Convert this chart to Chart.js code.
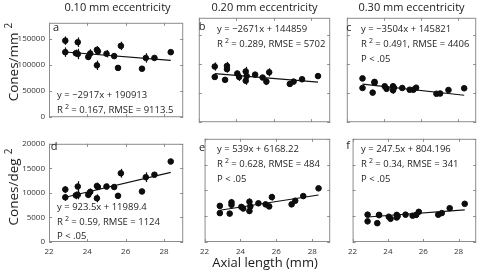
<!DOCTYPE html>
<html>
<head>
<meta charset="utf-8">
<script src="https://cdn.jsdelivr.net/npm/chart.js@4.4.0/dist/chart.umd.min.js"></script>
<style>
    body {
        margin: 0;
        width: 480px;
        height: 270px;
        overflow: hidden;
        position: relative;
        background: #fff;
        font-family: "Open Sans", sans-serif;
        color: #1a1a1a;
    }

    canvas,
    .t {
        position: absolute;
    }

    .t {
        white-space: nowrap;
        line-height: 1;
    }

    .c {
        transform: translate(-50%, -50%);
    }

    .l {
        transform: translateY(-50%);
    }

    .note {
        font-size: 9.5px;
        color: #1f1f1f;
    }

    .sup {
        position: relative;
        top: -4px;
        font-size: 7px;
        margin-left: 2px;
    }

    .ytitle {
        font-size: 13.5px;
        transform: translate(-50%, -50%) rotate(-90deg);
    }

    .ytitle .sup {
        font-size: 10px;
        top: -6px;
        margin-left: 4px;
    }
</style>
</head>
<body>
<script>
// axial length (mm) of each eye, shared by all six panels
const axialLength = [22.85, 22.85, 23.4, 23.5, 23.5, 24.05, 24.15, 24.5, 24.5, 24.55, 25.0, 25.4, 25.6, 25.75, 26.85, 27.05, 27.5, 28.35];

// cones/mm^2
const mm010 = [146000, 124000, 122000, 143000, 120500, 115000, 121500, 128500, 99000, 125500, 121000, 116500, 94000, 136000, 92500, 113000, 113000, 124000];
const mm010Err = [8000, 9000, 7000, 9000, 10000, 6000, 8000, 7000, 9000, 7000, 7000, 5000, 5000, 8000, 4000, 9000, 4000, 4000];
const mm020 = [96000, 78000, 73000, 97000, 91500, 84000, 78000, 87500, 71500, 79500, 82000, 77000, 70000, 86000, 66000, 70000, 74000, 79500];
const mm020Err = [7000, 5000, 4000, 7000, 6000, 5000, 7000, 8000, 7000, 6000, 4000, 4000, 6000, 7000, 4000, 4000, 3000, 4000];
const mm030 = [75500, 59000, 51000, 69500, 68000, 62000, 57500, 62000, 55000, 59500, 59000, 56000, 56000, 59500, 49000, 49500, 55500, 58500];
const mm030Err = [3000, 3000, 3000, 3500, 3000, 3500, 4000, 4500, 6000, 3500, 3000, 3000, 3000, 3500, 3000, 3000, 3000, 3000];

// cones/deg^2
const deg010 = [10700, 9100, 9500, 11300, 9600, 9600, 10200, 11400, 8900, 11200, 11300, 11200, 9400, 14000, 10300, 13200, 13700, 16400];
const deg010Err = [700, 700, 800, 1100, 900, 600, 700, 700, 800, 600, 600, 500, 600, 900, 500, 1000, 500, 400];
const deg020 = [7000, 5600, 5500, 7700, 7200, 6800, 6500, 7800, 6000, 6900, 7500, 7300, 6900, 8700, 7300, 8000, 8900, 10400];
const deg020Err = [400, 400, 400, 550, 500, 400, 500, 650, 550, 500, 400, 400, 400, 650, 400, 400, 400, 500];
const deg030 = [5300, 4000, 3650, 5250, 5200, 4900, 4500, 5250, 4750, 5000, 5300, 5100, 5250, 5850, 5300, 5600, 6550, 7400];
const deg030Err = [300, 300, 300, 400, 300, 300, 400, 400, 450, 400, 300, 300, 300, 400, 300, 300, 300, 400];

// regression lines, ends
const fitX = [22.85, 28.35];
const fitMm010 = [124300, 108200];
const fitMm020 = [83800, 69100];
const fitMm030 = [65800, 46500];
const fitDeg010 = [9110, 14190];
const fitDeg020 = [6150, 9110];
const fitDeg030 = [4850, 6210];

const xTicks = [22, 24, 26, 28];
const mmTicks = [0, 50000, 100000, 150000];
const degTicks = [0, 5000, 10000, 15000, 20000];

const colTitles = ["0.10 mm eccentricity", "0.20 mm eccentricity", "0.30 mm eccentricity"];

const panels = [
    { tag: "a", col: 0, row: 0, values: mm010, errors: mm010Err, fit: fitMm010,
      notes: ["y = −2917x + 190913", ["0.167, RMSE = 9113.5"]] },
    { tag: "b", col: 1, row: 0, values: mm020, errors: mm020Err, fit: fitMm020,
      notes: ["y = −2671x + 144859", ["0.289, RMSE = 5702"]] },
    { tag: "c", col: 2, row: 0, values: mm030, errors: mm030Err, fit: fitMm030,
      notes: ["y = −3504x + 145821", ["0.491, RMSE = 4406"], "P &lt; .05"] },
    { tag: "d", col: 0, row: 1, values: deg010, errors: deg010Err, fit: fitDeg010,
      notes: ["y = 923.5x + 11989.4", ["0.59, RMSE = 1124"], "P &lt; .05"] },
    { tag: "e", col: 1, row: 1, values: deg020, errors: deg020Err, fit: fitDeg020,
      notes: ["y = 539x + 6168.22", ["0.628, RMSE = 484"], "P &lt; .05"] },
    { tag: "f", col: 2, row: 1, values: deg030, errors: deg030Err, fit: fitDeg030,
      notes: ["y = 247.5x + 804.196", ["0.34, RMSE = 341"], "P &lt; .05"] },
];

// layout (pixels)
const cols = [{ l: 49, r: 186 }, { l: 196, r: 333 }, { l: 344, r: 479 }];
const rows = [{ t: 15, b: 125 }, { t: 136, b: 242 }];
const yAxisW = 49;
const xAxisH = 18;
const tagPos = [[56, 26], [202, 25], [349, 26], [54, 145], [202, 146], [348, 144]];
const notePos = [
    [57, [95, 109.5]],
    [217, [28.5, 43.5]],
    [361, [28.5, 43.5, 58.5]],
    [57, [207, 221.5, 236]],
    [217, [149, 164, 178.5]],
    [361, [149, 164, 178.5]],
];

function addText(html, x, y, cls) {
    const d = document.createElement("div");
    d.className = "t " + cls;
    d.innerHTML = html;
    d.style.left = x + "px";
    d.style.top = y + "px";
    document.body.appendChild(d);
    return d;
}

// box with inward tick marks, plus error bars
const boxPlugin = {
    id: "box",
    beforeDatasetsDraw(chart, args, opts) {
        const { ctx, scales } = chart;
        const meta = chart.getDatasetMeta(0);
        ctx.save();
        ctx.strokeStyle = "#111";
        ctx.lineWidth = 1.2;
        meta.data.forEach((pt, i) => {
            const v = opts.values[i];
            const e = opts.errors[i];
            const x = Math.round(pt.x) + 0.5;
            ctx.beginPath();
            ctx.moveTo(x, scales.y.getPixelForValue(v - e));
            ctx.lineTo(x, scales.y.getPixelForValue(v + e));
            ctx.stroke();
        });
        ctx.restore();
    },
    afterDraw(chart, args, opts) {
        const { ctx, chartArea: a, scales } = chart;
        ctx.save();
        ctx.strokeStyle = "#8c8c8c";
        ctx.lineWidth = 1;
        ctx.strokeRect(a.left + 0.5, a.top + 0.5, a.right - a.left - 1, a.bottom - a.top - 1);
        ctx.beginPath();
        xTicks.forEach((t) => {
            const x = Math.round(scales.x.getPixelForValue(t)) + 0.5;
            ctx.moveTo(x, a.bottom);
            ctx.lineTo(x, a.bottom - 3);
            ctx.moveTo(x, a.top);
            ctx.lineTo(x, a.top + 3);
        });
        opts.yTicks.forEach((t) => {
            const y = Math.round(scales.y.getPixelForValue(t)) + 0.5;
            ctx.moveTo(a.left, y);
            ctx.lineTo(a.left + 3, y);
            ctx.moveTo(a.right, y);
            ctx.lineTo(a.right - 3, y);
        });
        ctx.stroke();
        ctx.restore();
    },
};

function makePanel(p, idx) {
    const col = cols[p.col];
    const row = rows[p.row];
    const left = p.col === 0 ? yAxisW : 0;
    const bottom = p.row === 1 ? xAxisH : 0;
    const x0 = col.l - left - 1;
    const y0 = row.t - 1;
    const w = col.r - x0 + 1;
    const h = row.b - y0 + bottom + 1;

    const canvas = document.createElement("canvas");
    canvas.width = w;
    canvas.height = h;
    canvas.style.left = x0 + "px";
    canvas.style.top = y0 + "px";
    canvas.style.width = w + "px";
    canvas.style.height = h + "px";
    document.body.appendChild(canvas);

    const yTicks = p.row === 0 ? mmTicks : degTicks;

    new Chart(canvas, {
        type: "scatter",
        data: {
            datasets: [
                {
                    data: axialLength.map((x, i) => ({ x: x, y: p.values[i] })),
                    backgroundColor: "#0d0d0d",
                    borderColor: "#0d0d0d",
                    pointRadius: 2.8,
                    pointHoverRadius: 2.8,
                },
                {
                    type: "line",
                    data: fitX.map((x, i) => ({ x: x, y: p.fit[i] })),
                    borderColor: "#111",
                    borderWidth: 1.2,
                    pointRadius: 0,
                    fill: false,
                },
            ],
        },
        options: {
            responsive: false,
            animation: false,
            events: [],
            layout: { padding: { left: 1, top: 1, right: 1, bottom: 1 } },
            plugins: {
                legend: { display: false },
                tooltip: { enabled: false },
                box: { values: p.values, errors: p.errors, yTicks: yTicks },
            },
            scales: {
                x: {
                    type: "linear",
                    min: 22,
                    max: 29,
                    grid: { display: false, drawTicks: false },
                    border: { display: false },
                    ticks: {
                        display: p.row === 1,
                        padding: 5,
                        color: "#333",
                        font: { family: "Open Sans", size: 8 },
                    },
                    afterBuildTicks: (s) => { s.ticks = xTicks.map((v) => ({ value: v })); },
                    afterFit: (s) => { s.height = bottom; },
                },
                y: {
                    type: "linear",
                    min: 0,
                    max: p.row === 0 ? 180000 : 20000,
                    grid: { display: false, drawTicks: false },
                    border: { display: false },
                    ticks: {
                        display: p.col === 0,
                        padding: 4,
                        color: "#333",
                        font: { family: "Open Sans", size: 8 },
                        callback: (v) => String(v),
                    },
                    afterBuildTicks: (s) => { s.ticks = yTicks.map((v) => ({ value: v })); },
                    afterFit: (s) => { s.width = left; },
                },
            },
        },
        plugins: [boxPlugin],
    });

    addText(p.tag, tagPos[idx][0], tagPos[idx][1], "c note").style.fontSize = "11px";
    const [nx, ny] = notePos[idx];
    p.notes.forEach((n, k) => {
        const html = Array.isArray(n) ? 'R<span class="sup">2</span> = ' + n[0] : n;
        addText(html, nx, ny[k], "l note");
    });
}

panels.forEach(makePanel);

colTitles.forEach((t, i) => {
    addText(t, (cols[i].l + cols[i].r) / 2, 6, "c").style.fontSize = "11px";
});
addText('Cones/mm<span class="sup">2</span>', 14, 62, "ytitle");
addText('Cones/deg<span class="sup">2</span>', 14, 187, "ytitle");
addText("Axial length (mm)", 265, 262, "c").style.fontSize = "13px";
</script>
</body>
</html>
